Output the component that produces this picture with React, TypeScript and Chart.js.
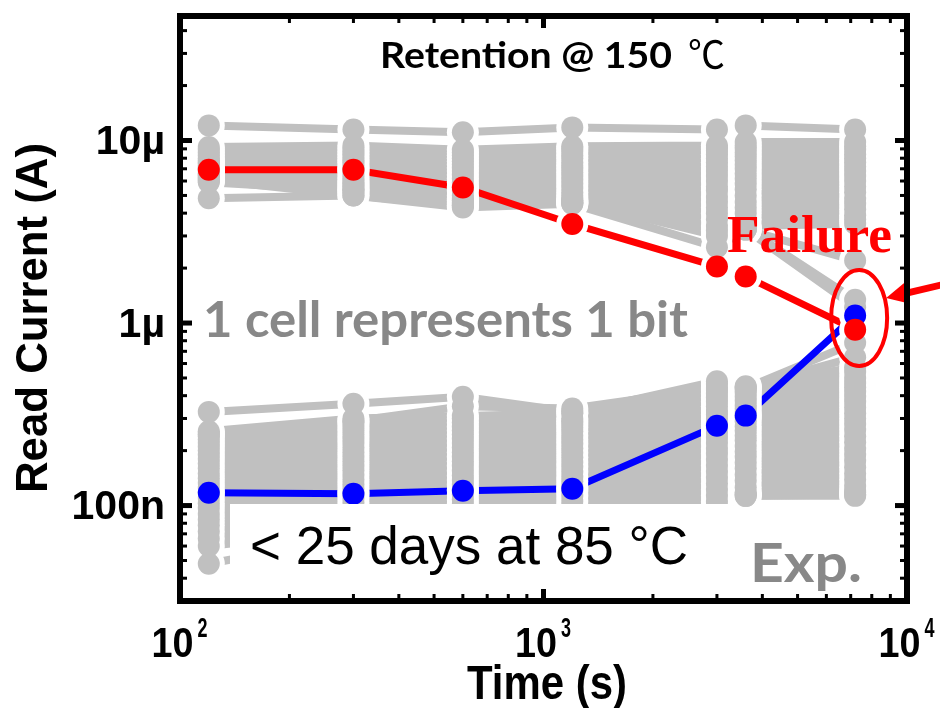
import React, { useEffect, useRef } from "react";
import { Chart, registerables } from "chart.js";

Chart.register(...registerables);

// ---------------- data ----------------
const times = [120, 300, 600, 1200, 3000, 3600, 7200];

// highlighted cells
const redCell_uA = [6.92, 6.92, 5.53, 3.49, 2.04, 1.8, 0.92];
const blueCell_nA = [117.6, 116, 120.6, 123.6, 274, 311, 1098];

// high-state cells (µA) at each time
const highCells_uA = [
  [12.1, 11.5, 11.1, 11.8, 11.5, 12.1, 11.5],
  [9.2, 9.4, 8.9, 9.3, 9.4, 9.8, 9.8],
  [8.9, 9.0, 8.6, 9.0, 9.1, 9.4, 9.3],
  [8.6, 8.7, 8.3, 8.7, 8.8, 9.0, 8.9],
  [8.3, 8.4, 8.0, 8.3, 8.4, 8.6, 8.4],
  [8.0, 8.1, 7.7, 8.0, 8.0, 8.2, 8.0],
  [7.8, 7.8, 7.4, 7.6, 7.6, 7.8, 7.6],
  [7.5, 7.6, 7.1, 7.3, 7.2, 7.4, 7.2],
  [7.3, 7.3, 6.8, 7.0, 6.8, 7.0, 6.8],
  [7.1, 7.0, 6.5, 6.7, 6.4, 6.6, 6.4],
  [6.8, 6.8, 6.2, 6.4, 6.0, 6.2, 6.0],
  [6.6, 6.5, 5.9, 6.1, 5.6, 5.8, 5.6],
  [6.4, 6.2, 5.6, 5.8, 5.3, 5.4, 5.2],
  [6.2, 6.0, 5.3, 5.5, 4.9, 5.0, 4.8],
  [7.6, 5.7, 5.0, 5.2, 4.6, 4.6, 4.5],
  [7.0, 5.4, 4.8, 5.0, 4.3, 4.3, 4.2],
  [6.3, 5.2, 4.6, 4.8, 4.0, 4.0, 3.9],
  [6.1, 5.0, 4.4, 4.6, 3.7, 3.7, 3.7],
  [4.83, 5.0, 4.3, 4.5, 3.4, 3.4, 3.5],
  [6.5, 5.8, 4.7, 4.5, 2.6, 3.25, 2.2],
  [6.0, 5.5, 4.5, 4.7, 3.0, 3.3, 1.34],
  [5.9, 5.3, 4.4, 4.6, 3.2, 3.25, 1.22],
];

// low-state cells (nA) at each time
const lowCells_nA = [
  [326, 361, 394, 326, 464, 451, 573],
  [250, 285, 300, 300, 430, 430, 540],
  [240, 270, 285, 290, 410, 415, 500],
  [230, 258, 270, 280, 390, 395, 470],
  [220, 245, 258, 268, 370, 375, 445],
  [210, 232, 245, 255, 350, 355, 420],
  [200, 220, 232, 242, 330, 340, 395],
  [190, 208, 220, 230, 315, 322, 370],
  [180, 196, 208, 218, 298, 305, 345],
  [170, 185, 196, 206, 282, 290, 320],
  [160, 175, 185, 195, 265, 272, 300],
  [150, 165, 175, 184, 250, 258, 280],
  [141, 156, 165, 173, 235, 242, 260],
  [133, 147, 155, 163, 220, 228, 240],
  [125, 139, 146, 153, 205, 212, 222],
  [118, 131, 138, 144, 192, 198, 205],
  [110, 124, 130, 136, 178, 185, 190],
  [103, 117, 122, 128, 165, 172, 176],
  [97, 110, 115, 120, 153, 160, 162],
  [90, 104, 108, 113, 142, 148, 150],
  [84, 98, 102, 106, 132, 137, 139],
  [78, 92, 96, 100, 122, 126, 128],
  [72, 86, 90, 94, 113, 116, 118],
  [66, 80, 84, 88, 105, 113, 113],
  [60, 74, 78, 82, 98, 113, 115],
  [48, 68, 72, 76, 92, 118, 120],
  [255, 300, 310, 320, 480, 440, 780],
  [245, 290, 350, 340, 440, 445, 650],
];

// axes
const xRange = [100, 10000];
const yRange = [3.12e-8, 4.81e-5];
const xMajorTicks = [100, 1000, 10000];
const xTickBase = ["10", "10", "10"];
const xTickExp = ["2", "3", "4"];
const xMinorTicks = [200, 300, 400, 500, 600, 700, 800, 900, 2000, 3000, 4000, 5000, 6000, 7000, 8000, 9000];
const yMajorTicks = [1e-7, 1e-6, 1e-5];
const yTickLabels = ["100n", "1µ", "10µ"];
const yMinorTicks = [
  4e-8, 5e-8, 6e-8, 7e-8, 8e-8, 9e-8,
  2e-7, 3e-7, 4e-7, 5e-7, 6e-7, 7e-7, 8e-7, 9e-7,
  2e-6, 3e-6, 4e-6, 5e-6, 6e-6, 7e-6, 8e-6, 9e-6,
  2e-5, 3e-5, 4e-5,
];
const failurePoint = { t: 7200, i: 1.0e-6 };

const uA = 1e-6;
const nA = 1e-9;
const GRAY = "#c0c0c0";

// ---------------- helpers ----------------
function drawFit(
  ctx: CanvasRenderingContext2D,
  text: string,
  x: number,
  y: number,
  font: string,
  color: string,
  width: number | null,
  align: "left" | "center" | "right" = "left"
) {
  ctx.save();
  ctx.font = font;
  ctx.fillStyle = color;
  ctx.textBaseline = "alphabetic";
  ctx.textAlign = "left";
  const w = ctx.measureText(text).width;
  const sx = width ? width / w : 1;
  const ww = w * sx;
  let x0 = x;
  if (align === "center") x0 = x - ww / 2;
  if (align === "right") x0 = x - ww;
  ctx.translate(x0, y);
  ctx.scale(sx, 1);
  ctx.fillText(text, 0, 0);
  ctx.restore();
}

const decorPlugin = {
  id: "decor",
  afterDatasetsDraw(chart: any) {
    const ctx: CanvasRenderingContext2D = chart.ctx;
    const xs = chart.scales.x;
    const ys = chart.scales.y;
    const { left, right, top, bottom } = chart.chartArea;

    ctx.save();
    // white box behind the "< 25 days" note
    ctx.fillStyle = "#ffffff";
    ctx.fillRect(230, 504, 733 - 230, bottom - 504 - 3);

    // annotations
    drawFit(ctx, "Retention @ 150", 380, 68, "bold 37px Lato, 'Liberation Sans', sans-serif", "#000", 292);
    drawFit(ctx, "℃", 688, 68, "38px 'Noto Sans CJK SC', sans-serif", "#000", 37);
    drawFit(ctx, "1 cell represents 1 bit", 203, 337, "bold 49px Lato, 'Liberation Sans', sans-serif", "#888888", 485);
    drawFit(ctx, "Failure", 727, 252, "bold 53px 'Liberation Serif', 'Times New Roman', serif", "#ff0000", 165);
    drawFit(ctx, "< 25 days at 85 °C", 250, 564, "53px 'Liberation Sans', Arial, sans-serif", "#000", 438);
    drawFit(ctx, "Exp.", 750, 582, "bold 53px Lato, 'Liberation Sans', sans-serif", "#888888", 112);

    // failure ellipse + arrow
    const fx = xs.getPixelForValue(failurePoint.t) + 4;
    const fy = ys.getPixelForValue(failurePoint.i) - 5;
    ctx.strokeStyle = "#ff0000";
    ctx.lineWidth = 4;
    ctx.beginPath();
    ctx.ellipse(fx, fy, 28, 48, 0, 0, Math.PI * 2);
    ctx.stroke();

    const tip = { x: fx + 27, y: fy - 20 };
    const tail = { x: 945, y: tip.y - 14 };
    const dx = tip.x - tail.x;
    const dy = tip.y - tail.y;
    const len = Math.hypot(dx, dy);
    const ux = dx / len;
    const uy = dy / len;
    const hl = 22;
    const hw = 11;
    const bx = tip.x - ux * hl;
    const by = tip.y - uy * hl;
    ctx.lineWidth = 7;
    ctx.beginPath();
    ctx.moveTo(tail.x, tail.y);
    ctx.lineTo(bx + ux * 2, by + uy * 2);
    ctx.stroke();
    ctx.fillStyle = "#ff0000";
    ctx.beginPath();
    ctx.moveTo(tip.x, tip.y);
    ctx.lineTo(bx - uy * hw, by + ux * hw);
    ctx.lineTo(bx + uy * hw, by - ux * hw);
    ctx.closePath();
    ctx.fill();

    // frame
    ctx.strokeStyle = "#000";
    ctx.lineWidth = 6;
    ctx.strokeRect(left, top, right - left, bottom - top);

    // ticks
    ctx.fillStyle = "#000";
    for (const v of xMajorTicks) {
      const px = xs.getPixelForValue(v);
      ctx.fillRect(px - 2.5, bottom - 12, 5, 12);
      ctx.fillRect(px - 2.5, top, 5, 12);
    }
    for (const v of xMinorTicks) {
      const px = xs.getPixelForValue(v);
      ctx.fillRect(px - 1.5, bottom - 7, 3, 10);
      ctx.fillRect(px - 1.5, top - 3, 3, 10);
    }
    for (const v of yMajorTicks) {
      const py = ys.getPixelForValue(v);
      ctx.fillRect(left, py - 2.5, 12, 5);
      ctx.fillRect(right - 12, py - 2.5, 12, 5);
    }
    for (const v of yMinorTicks) {
      const py = ys.getPixelForValue(v);
      ctx.fillRect(left - 3, py - 1.5, 10, 3);
      ctx.fillRect(right - 7, py - 1.5, 10, 3);
    }

    // y tick labels
    yMajorTicks.forEach((v, k) => {
      const py = ys.getPixelForValue(v);
      drawFit(ctx, yTickLabels[k], 165, py + 13.5, "bold 41px 'Liberation Sans', Arial, sans-serif", "#000", null, "right");
    });

    // x tick labels with superscript exponent
    xMajorTicks.forEach((v, k) => {
      const px = xs.getPixelForValue(v);
      const baseW = 42;
      const gap = 5;
      const expW = 10;
      const x0 = px - (baseW + gap + expW) / 2;
      drawFit(ctx, xTickBase[k], x0, 657, "bold 43px 'Liberation Sans', Arial, sans-serif", "#000", baseW);
      drawFit(ctx, xTickExp[k], x0 + baseW + gap - 1, 637, "bold 27px 'Liberation Sans', Arial, sans-serif", "#000", expW);
    });

    // axis titles
    drawFit(ctx, "Time (s)", 547, 699, "bold 49px 'Liberation Sans', Arial, sans-serif", "#000", 160, "center");
    ctx.save();
    ctx.translate(47, 318);
    ctx.rotate(-Math.PI / 2);
    drawFit(ctx, "Read Current (A)", 0, 0, "bold 44px 'Liberation Sans', Arial, sans-serif", "#000", 350, "center");
    ctx.restore();

    ctx.restore();
  },
};

export default function App() {
  const ref = useRef<HTMLCanvasElement | null>(null);

  useEffect(() => {
    if (!ref.current) return;
    document.body.style.margin = "0";

    const toPts = (vals: number[], unit: number) => times.map((t, i) => ({ x: t, y: vals[i] * unit }));

    const redPts = toPts(redCell_uA, uA);
    const bluePts = toPts(blueCell_nA, nA);
    const grayPts = [
      ...highCells_uA.flatMap((c) => toPts(c, uA)),
      ...lowCells_nA.flatMap((c) => toPts(c, nA)),
    ];

    const grayLines = [
      ...highCells_uA.map((c) => toPts(c, uA)),
      ...lowCells_nA.map((c) => toPts(c, nA)),
    ].map((data) => ({
      data,
      showLine: true,
      borderColor: GRAY,
      borderWidth: 8,
      pointRadius: 0,
      order: 6,
    }));

    const lineOnly = (data: any[], color: string) => ({
      data,
      showLine: true,
      borderColor: color,
      borderWidth: 7,
      pointRadius: 0,
      order: 5,
    });
    const pointsOnly = (data: any[], color: string, radius: number, order: number) => ({
      data,
      showLine: false,
      pointRadius: radius,
      pointBorderWidth: 0,
      pointBackgroundColor: color,
      backgroundColor: color,
      borderColor: color,
      order,
    });

    const chart = new Chart(ref.current, {
      type: "scatter",
      data: {
        datasets: [
          pointsOnly(redPts, "#ff0000", 11, 0),
          pointsOnly(bluePts, "#0000ff", 11, 1),
          pointsOnly(grayPts, GRAY, 11, 3),
          pointsOnly([...grayPts, ...redPts, ...bluePts], "#ffffff", 16, 4),
          lineOnly(redPts, "#ff0000"),
          lineOnly(bluePts, "#0000ff"),
          ...grayLines,
        ] as any,
      },
      options: {
        animation: false,
        responsive: false,
        devicePixelRatio: 1,
        events: [],
        layout: { padding: { left: 180, right: 33, top: 12, bottom: 107 } },
        plugins: { legend: { display: false }, tooltip: { enabled: false } },
        scales: {
          x: { type: "logarithmic", min: xRange[0], max: xRange[1], display: false },
          y: { type: "logarithmic", min: yRange[0], max: yRange[1], display: false },
        },
      },
      plugins: [decorPlugin],
    });

    return () => chart.destroy();
  }, []);

  return (
    <div style={{ position: "fixed", left: 0, top: 0, width: 940, height: 708, background: "#ffffff" }}>
      <canvas ref={ref} width={940} height={708} style={{ display: "block", width: 940, height: 708 }} />
    </div>
  );
}
